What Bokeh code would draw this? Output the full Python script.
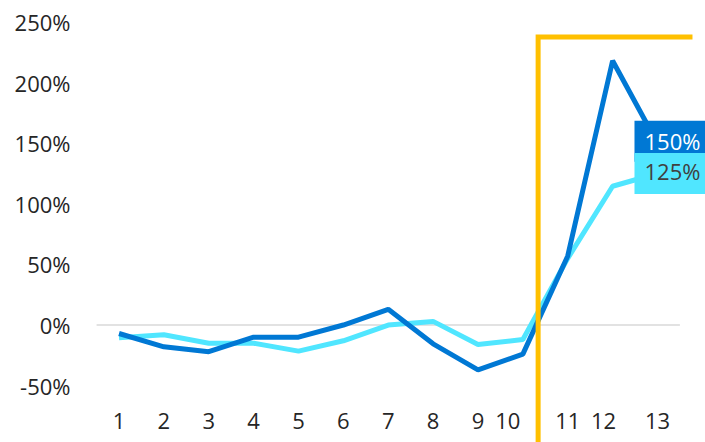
from bokeh.plotting import figure
from bokeh.models import Range1d, FixedTicker, ColumnDataSource
from bokeh.core.properties import value
from bokeh.embed import file_html
from bokeh.resources import INLINE

# ---- data ----
categories = list(range(1, 14))
x_labels = [str(c) for c in categories]
series_dark = [-7, -18, -22, -10, -10, 0, 13, -15.5, -37, -24, 57, 218, 150]
series_light = [-10.5, -8, -15, -15, -21.5, -13, 0, 3, -16, -12, 55, 114.5, 125]
y_ticks = [-50, 0, 50, 100, 150, 200, 250]

# ---- style / layout ----
DARK = "#0078D4"
LIGHT = "#50E6FF"
ORANGE = "#FFC000"
TEXT = "#262626"
FONT = "Open Sans"
label_dx = [0, 0, 0, 0, 0, 0, 0, 0, 0, -15, 0, -9, 0]
XLAB_Y = -79
Y0, Y1 = -96.9, 267.7
HL_X, HL_TOP, HL_RIGHT = 10.34, 237.6, 13.78
PAD_DARK = dict(left=10, right=30, top=5, bottom=6)
PAD_LIGHT = dict(left=10, right=30, top=3, bottom=8)

p = figure(width=705, height=442, output_backend="svg", toolbar_location=None,
           x_range=Range1d(0.476, 14.07), y_range=Range1d(Y0, Y1),
           x_axis_location=None, min_border_left=95, min_border_right=0,
           min_border_top=0, min_border_bottom=0)
p.outline_line_color = None
p.grid.visible = False
p.background_fill_color = "white"
p.border_fill_color = "white"

ax = p.yaxis[0]
ax.ticker = FixedTicker(ticks=y_ticks)
ax.major_label_overrides = {t: f"{t}%" for t in y_ticks}
ax.axis_line_color = None
ax.major_tick_line_color = None
ax.minor_tick_line_color = None
ax.major_tick_out = 0
ax.major_tick_in = 0
ax.major_label_standoff = 25
ax.major_label_text_font = FONT
ax.major_label_text_font_size = "22px"
ax.major_label_text_color = TEXT

# zero line
p.line(x=[categories[0] - 0.5, categories[-1] + 0.5], y=[0, 0], line_color="#D9D9D9", line_width=1.5)

# series
p.line(x=categories, y=series_light, line_color=LIGHT, line_width=5)
p.line(x=categories, y=series_dark, line_color=DARK, line_width=5)

# highlight bracket
p.line(x=[HL_X, HL_X, HL_RIGHT], y=[Y0, HL_TOP, HL_TOP], line_color=ORANGE, line_width=5,
       line_join="miter")

# x labels
xs = ColumnDataSource(dict(x=categories, y=[XLAB_Y] * len(categories), t=x_labels, dx=label_dx))
p.text(x="x", y="y", text="t", x_offset="dx", source=xs, text_align="center",
       text_baseline="middle", text_font=value(FONT), text_font_size="22px", text_color=TEXT)

# end labels
p.text(x=[categories[-1]], y=[series_dark[-1]], text=[f"{series_dark[-1]:.0f}%"],
       x_offset=-23, y_offset=-2, text_align="left", text_baseline="middle", text_font=value(FONT),
       text_font_size="22px", text_color="white", background_fill_color=DARK,
       padding=PAD_DARK)
p.text(x=[categories[-1]], y=[series_light[-1]], text=[f"{series_light[-1]:.0f}%"],
       x_offset=-23, y_offset=0, text_align="left", text_baseline="middle", text_font=value(FONT),
       text_font_size="22px", text_color="#404040", background_fill_color=LIGHT,
       padding=PAD_LIGHT)

open("out.html", "w").write(file_html(p, INLINE))
